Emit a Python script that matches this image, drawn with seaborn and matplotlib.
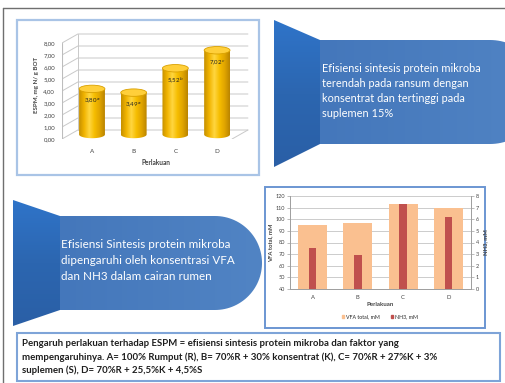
import numpy as np
import matplotlib
matplotlib.use("Agg")
import matplotlib.pyplot as plt
import seaborn as sns
from matplotlib.patches import Polygon, Rectangle, Ellipse, Patch
from matplotlib.colors import LinearSegmentedColormap

# ---- data ----
treatments = ["A", "B", "C", "D"]
espm = [3.80, 3.49, 5.52, 7.02]
espm_letters = ["a", "a", "b", "c"]
espm_ticks = [0, 1, 2, 3, 4, 5, 6, 7, 8]
vfa_total = [95, 97, 113, 110]
nh3 = [3.5, 2.9, 7.3, 6.2]
vfa_ticks = [40, 50, 60, 70, 80, 90, 100, 110, 120]
nh3_ticks = [0, 1, 2, 3, 4, 5, 6, 7, 8]

callout_top = ["Efisiensi sintesis protein mikroba",
               "terendah pada ransum dengan",
               "konsentrat dan tertinggi pada",
               "suplemen 15%"]
callout_bottom = ["Efisiensi Sintesis protein mikroba",
                  "dipengaruhi oleh konsentrasi VFA",
                  "dan NH3 dalam cairan rumen"]
caption = ["Pengaruh perlakuan terhadap ESPM = efisiensi sintesis protein mikroba dan faktor yang",
           "mempengaruhinya. A= 100% Rumput (R), B= 70%R + 30% konsentrat (K), C= 70%R + 27%K + 3%",
           "suplemen (S), D= 70%R + 25,5%K + 4,5%S"]

sns.set_theme(style="white")
plt.rcParams["font.family"] = ["Lato", "DejaVu Sans"]

W, H = 505, 383
fig = plt.figure(figsize=(W / 100, H / 100), dpi=100)
fig.patch.set_facecolor("white")


def fx(px):
    return px / W


def fy(py):
    return 1 - py / H


# ---- page layer in pixel coordinates ----
bg = fig.add_axes([0, 0, 1, 1], zorder=0)
bg.set_xlim(0, W)
bg.set_ylim(H, 0)
bg.axis("off")

# outer frame
bg.plot([3, W], [8, 8], color="#6f6f6f", lw=1.0)
bg.plot([3, 3], [8, H], color="#6f6f6f", lw=1.0)

# chart frames and caption frame
bg.add_patch(Rectangle((17, 20), 242, 155, fc="white", ec="#a9c4e6", lw=1.6))
bg.add_patch(Rectangle((265, 187), 220, 141, fc="white", ec="#6b96d2", lw=1.4))
bg.add_patch(Rectangle((17, 333), 483, 48, fc="white", ec="#7ea4d8", lw=1.5))


def callout(x0, ytop, ybot, xneck, rtop, rbot, xc):
    r = (rbot - rtop) / 2
    cy = (rtop + rbot) / 2
    trap = [(x0, ytop), (xneck, rtop), (xneck, rbot), (x0, ybot)]
    t = np.linspace(-np.pi / 2, np.pi / 2, 60)
    arc = list(zip(xc + r * np.cos(t), cy + r * np.sin(t)))
    body = [(xneck, rtop)] + arc + [(xneck, rbot)]
    pb = Polygon(body, closed=True, fc="none", ec="none")
    bg.add_patch(pb)
    grad = np.linspace(0, 1, 256).reshape(1, -1)
    cmap_b = LinearSegmentedColormap.from_list("b", ["#4477bb", "#5184c4"])
    im = bg.imshow(grad, cmap=cmap_b, extent=[xneck, xc + r, rbot, rtop],
                   aspect="auto", zorder=1)
    im.set_clip_path(pb)
    pt = Polygon(trap, closed=True, fc="none", ec="none")
    bg.add_patch(pt)
    gv = np.linspace(0, 1, 256).reshape(-1, 1)
    cmap_t = LinearSegmentedColormap.from_list("t", ["#2f74c9", "#2c66b0", "#2a5fa6"])
    im2 = bg.imshow(gv, cmap=cmap_t, extent=[x0, xneck, ybot, ytop],
                    aspect="auto", zorder=1)
    im2.set_clip_path(pt)


callout(274, 20, 167, 320, 40, 144, 490)
callout(13, 200, 326, 60, 216, 310, 215)

for i, line in enumerate(callout_top):
    bg.text(322, 69 + i * 14.7, line, color="white", fontsize=7.9,
            va="center", ha="left", zorder=3)
for i, line in enumerate(callout_bottom):
    bg.text(61, 245 + i * 15.5, line, color="white", fontsize=8.4,
            va="center", ha="left", zorder=3)
for i, line in enumerate(caption):
    bg.text(22, 343 + i * 13.8, line, color="#1e1e1e", fontsize=6.95,
            fontweight="bold", va="center", ha="left", zorder=3)

# ---- chart 1: ESPM cylinders ----
ax1 = fig.add_axes([fx(62), fy(139), fx(250 - 62), (139 - 30) / H], zorder=2)
ax1.patch.set_alpha(0)
x_left, x_front_right = -0.72, 3.36
ddx, ddy = 0.38, 0.75
ax1.set_xlim(x_left, 3.79)
ax1.set_ylim(0, 109 / 12)
grid_c = "#c9c9c9"
for v in espm_ticks:
    ax1.plot([x_left, x_left + ddx, x_front_right + ddx], [v, v + ddy, v + ddy],
             color=grid_c, lw=0.7, zorder=0)
ax1.plot([x_left + ddx, x_left + ddx], [ddy, 8 + ddy], color=grid_c, lw=0.7, zorder=0)
ax1.plot([x_front_right, x_front_right + ddx], [0, ddy], color=grid_c, lw=0.7, zorder=0)
ax1.plot([x_left, x_front_right], [0, 0], color=grid_c, lw=0.7, zorder=0)
ax1.plot([x_left, x_left], [0, 8], color="#bdbdbd", lw=0.8, zorder=0)

bar_w = 0.62
sns.barplot(x=treatments, y=espm, ax=ax1, color="#f2b600", width=bar_w,
            saturation=1, zorder=2)
gold = LinearSegmentedColormap.from_list(
    "gold", ["#c48f00", "#f1b400", "#ffd640", "#f6bd00", "#e0a400", "#b98400"])
ell_h = 0.62
for p, v, lt in zip(ax1.patches, espm, espm_letters):
    x0 = p.get_x()
    w = p.get_width()
    xc = x0 + w / 2
    base = ddy / 2
    p.set_y(base)
    p.set_visible(False)
    t = np.linspace(np.pi, 2 * np.pi, 40)
    bottom_arc = list(zip(xc + w / 2 * np.cos(t), base + ell_h / 2 * np.sin(t)))
    body = [(x0, v + base)] + bottom_arc + [(x0 + w, v + base)]
    body_patch = Polygon(body, closed=True, fc="none", ec="none")
    ax1.add_patch(body_patch)
    im = ax1.imshow(np.linspace(0, 1, 256).reshape(1, -1), cmap=gold,
                    extent=[x0, x0 + w, base - ell_h, v + base], aspect="auto",
                    zorder=2)
    im.set_clip_path(body_patch)
    ax1.add_patch(Ellipse((xc, v + base), w, ell_h, fc="#ffcf3a",
                          ec="#d9a000", lw=0.6, zorder=3))
    ax1.text(xc, v + base - 1.0, f"{v:.2f}".replace(".", ",") + f"$^{{{lt}}}$",
             ha="center", va="center", fontsize=4.4, color="#222222", zorder=4)
ax1.set_xlim(x_left, 3.79)
ax1.set_ylim(0, 109 / 12)
ax1.set_yticks(espm_ticks)
ax1.set_yticklabels([f"{v:.2f}".replace(".", ",") for v in espm_ticks])
ax1.tick_params(axis="y", length=0, pad=5, labelsize=4.3, labelcolor="#444444")
ax1.tick_params(axis="x", length=0, pad=7, labelsize=4.5, labelcolor="#444444")
for s in ax1.spines.values():
    s.set_visible(False)
ax1.set_xlabel("Perlakuan", fontsize=4.7, fontweight="bold", color="#444444",
               labelpad=4)
ax1.set_ylabel("ESPM, mg N/ g BOT", fontsize=4.4, fontweight="bold",
               color="#444444", labelpad=3)

# ---- chart 2: VFA and NH3 ----
ax2 = fig.add_axes([fx(290), fy(289), fx(181), 93 / H], zorder=2)
ax2.patch.set_alpha(0)
sns.barplot(x=treatments, y=vfa_total, ax=ax2, color="#fac090", width=0.64,
            saturation=1, zorder=2, edgecolor="none")
ax2.set_ylim(40, 120)
ax2.set_yticks(vfa_ticks)
ax2.yaxis.grid(True, color="#c4c4c4", lw=0.6)
ax2.set_axisbelow(True)
ax2.set_xlim(-0.5, 3.5)
ax2r = ax2.twinx()
ax2r.set_zorder(3)
ax2r.patch.set_alpha(0)
sns.barplot(x=treatments, y=nh3, ax=ax2r, color="#c0504d", width=0.17,
            saturation=1, zorder=3, edgecolor="none")
ax2r.set_ylim(0, 8)
ax2r.set_yticks(nh3_ticks)
ax2r.set_xlim(-0.5, 3.5)
for a in (ax2, ax2r):
    for s in a.spines.values():
        s.set_color("#a0a0a0")
        s.set_linewidth(0.7)
    a.spines["top"].set_visible(False)
    a.tick_params(axis="y", length=2, width=0.5, color="#a0a0a0", pad=1.5,
                  labelsize=4, labelcolor="#444444")
ax2.tick_params(axis="x", length=0, pad=4, labelsize=4.2, labelcolor="#444444")
ax2.set_xticks([0.5, 1.5, 2.5], minor=True)
ax2.tick_params(axis="x", which="minor", length=2.5, width=0.5, color="#a0a0a0")
ax2.set_xlabel("Perlakuan", fontsize=4.4, fontweight="bold", color="#444444",
               labelpad=2)
ax2.set_ylabel("VFA total, mM", fontsize=4.2, fontweight="bold", color="#444444",
               labelpad=2)
ax2r.set_ylabel("NH3, mM", fontsize=4.2, fontweight="bold", color="#444444",
                labelpad=3)
ax2r.set_xlabel("")
handles = [Patch(color="#fac090"), Patch(color="#c0504d")]
fig.legend(handles, ["VFA total, mM", "NH3, mM"], loc="center",
           bbox_to_anchor=(fx(380), fy(317)), ncol=2, fontsize=3.8, frameon=False,
           handlelength=0.5, handleheight=0.5, handletextpad=0.4, columnspacing=2.0)

fig.savefig("out.png", dpi=100)
